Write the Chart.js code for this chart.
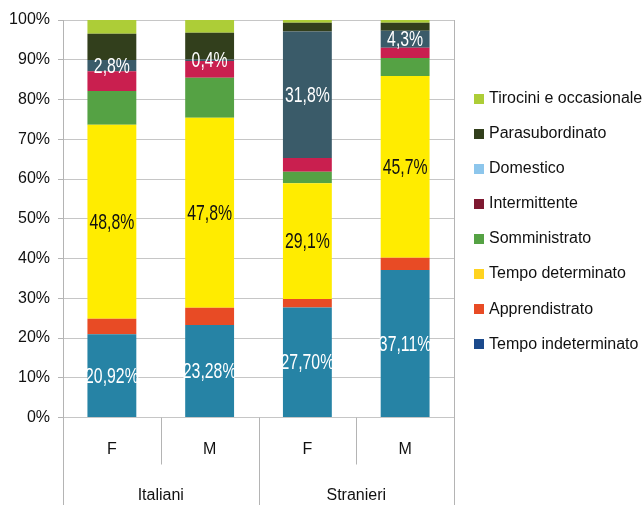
<!DOCTYPE html>
<html><head><meta charset="utf-8">
<script src="https://cdn.jsdelivr.net/npm/chart.js@4"></script>
<style>html,body{margin:0;padding:0;background:#fff}#wrap{width:644px;height:505px}</style>
</head><body><div id="wrap"><canvas id="c" width="644" height="505"></canvas></div>
<script>
// ---- data ----
const categories = ['F', 'M', 'F', 'M'];
const groups = ['Italiani', 'Stranieri'];
const groupSizes = [2, 2];
const seriesNames = ['Tempo indeterminato', 'Apprendistrato', 'Tempo determinato', 'Somministrato',
  'Intermittente', 'Domestico', 'Parasubordinato', 'Tirocini e occasionale'];
const tempoIndeterminato = [20.92, 23.28, 27.70, 37.11];
const apprendistrato = [3.9, 4.3, 2.1, 3.1];
const tempoDeterminato = [48.8, 47.8, 29.1, 45.7];
const somministrato = [8.5, 10.1, 2.9, 4.5];
const intermittente = [5.0, 4.2, 3.5, 2.6];
const domestico = [2.8, 0.4, 31.8, 4.3];
const parasubordinato = [6.6, 6.7, 2.2, 2.0];
const tirocini = [3.48, 3.22, 0.7, 0.69];
const yTickValues = [0, 10, 20, 30, 40, 50, 60, 70, 80, 90, 100];
// series shown with value labels: index -> decimals
const labeledSeries = { 0: 2, 2: 1, 5: 1 };

// ---- styles ----
const barColors = ['#2683a5', '#e84b25', '#ffec00', '#55a244', '#c91f4f', '#3a5b69', '#323f1c', '#adcd37'];
const legendColors = ['#1b4a8c', '#e84b25', '#ffd320', '#55a244', '#7e1830', '#8dc6ec', '#323f1c', '#adcd37'];
const labelColors = { 0: '#ffffff', 2: '#111111', 5: '#ffffff' };
const FONT = "'Liberation Sans', Arial, sans-serif";
const GRID = '#c6c6c6';
const AXIS = '#b4b4b4';

const seriesData = [tempoIndeterminato, apprendistrato, tempoDeterminato, somministrato,
  intermittente, domestico, parasubordinato, tirocini];

const frame = {
  id: 'frame',
  afterDraw(chart) {
    const { ctx, chartArea: a, scales: { x } } = chart;
    const H = chart.height;
    ctx.save();
    ctx.strokeStyle = AXIS;
    ctx.lineWidth = 1;
    const line = (x1, y1, x2, y2) => { ctx.beginPath(); ctx.moveTo(x1, y1); ctx.lineTo(x2, y2); ctx.stroke(); };
    const L = Math.round(a.left) + 0.5, R = Math.round(a.right) + 0.5;
    line(R, a.top, R, H);
    line(L, a.bottom, L, H);
    let idx = 0;
    ctx.fillStyle = '#111';
    ctx.font = '16px ' + FONT;
    ctx.textAlign = 'center';
    ctx.textBaseline = 'middle';
    groups.forEach((g, gi) => {
      const n = groupSizes[gi];
      const first = x.getPixelForValue(idx), last = x.getPixelForValue(idx + n - 1);
      ctx.fillText(g, (first + last) / 2, 496);
      for (let k = idx; k < idx + n - 1; k++) {
        const bx = Math.round((x.getPixelForValue(k) + x.getPixelForValue(k + 1)) / 2) + 0.5;
        line(bx, a.bottom, bx, a.bottom + 47);
      }
      idx += n;
      if (idx < categories.length) {
        const bx = Math.round((x.getPixelForValue(idx - 1) + x.getPixelForValue(idx)) / 2) + 0.5;
        line(bx, a.bottom, bx, H);
      }
    });
    ctx.restore();
  }
};

const legendBox = {
  id: 'legendBox',
  afterDraw(chart) {
    const { ctx, chartArea: a } = chart;
    ctx.save();
    ctx.font = '16px ' + FONT;
    ctx.textAlign = 'left';
    ctx.textBaseline = 'middle';
    const order = seriesNames.map((n, i) => i).reverse();
    const x0 = a.right + 20, y0 = a.top + 78.5, step = 35.1;
    order.forEach((i, r) => {
      const cy = y0 + r * step;
      ctx.fillStyle = legendColors[i];
      ctx.fillRect(x0, Math.round(cy - 5), 10, 10);
      ctx.fillStyle = '#111';
      ctx.fillText(seriesNames[i], x0 + 15, cy);
    });
    ctx.restore();
  }
};

const valueLabels = {
  id: 'valueLabels',
  afterDatasetsDraw(chart) {
    const { ctx } = chart;
    ctx.save();
    ctx.font = '22px ' + FONT;
    ctx.textAlign = 'center';
    ctx.textBaseline = 'middle';
    Object.keys(labeledSeries).forEach(k => {
      const i = +k, dec = labeledSeries[k];
      const meta = chart.getDatasetMeta(i);
      meta.data.forEach((el, j) => {
        const v = seriesData[i][j];
        const txt = v.toFixed(dec).replace('.', ',') + '%';
        const cy = (el.y + el.base) / 2;
        ctx.save();
        ctx.translate(el.x, cy + 1);
        ctx.scale(0.72, 1);
        ctx.fillStyle = labelColors[i];
        ctx.fillText(txt, 0, 0);
        ctx.restore();
      });
    });
    ctx.restore();
  }
};

new Chart(document.getElementById('c'), {
  type: 'bar',
  data: {
    labels: categories,
    datasets: seriesNames.map((n, i) => ({
      label: n, data: seriesData[i], backgroundColor: barColors[i], borderWidth: 0,
      barPercentage: 0.5, categoryPercentage: 1
    }))
  },
  options: {
    responsive: false, animation: false, devicePixelRatio: 1,
    layout: { padding: { left: 0, right: 190, top: 20, bottom: 0 } },
    plugins: {
      tooltip: { enabled: false },
      legend: { display: false }
    },
    scales: {
      x: {
        stacked: true,
        grid: { display: false, drawTicks: false },
        border: { display: false },
        ticks: { padding: 22, color: '#111', font: { family: FONT, size: 16 } },
        afterFit(s) { s.height = 87.5; }
      },
      y: {
        stacked: true, min: 0, max: 100,
        afterBuildTicks(s) { s.ticks = yTickValues.map(v => ({ value: v })); },
        ticks: { padding: 8, color: '#111', font: { family: FONT, size: 16 }, callback: v => v + '%' },
        grid: { color: GRID, tickLength: 5, tickColor: AXIS },
        border: { color: AXIS },
        afterFit(s) { s.width = 63; }
      }
    }
  },
  plugins: [frame, legendBox, valueLabels]
});
</script></body></html>
